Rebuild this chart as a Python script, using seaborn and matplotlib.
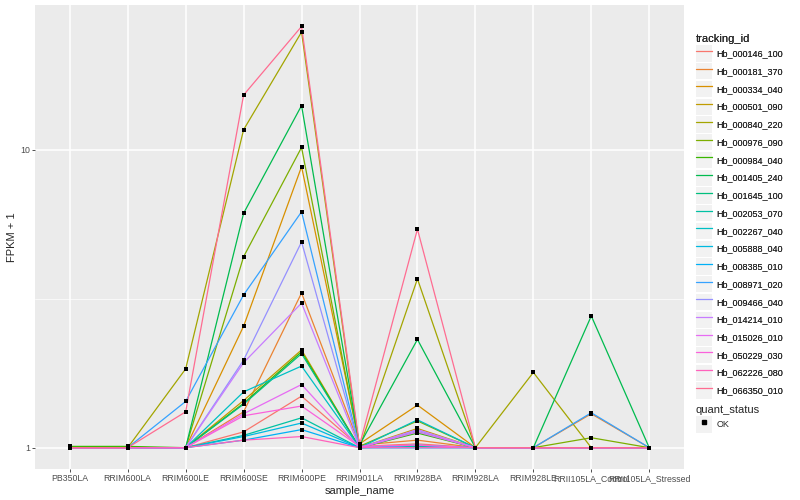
import matplotlib
matplotlib.use('Agg')
import pandas as pd
import matplotlib.pyplot as plt
import seaborn as sns
from matplotlib.lines import Line2D
from matplotlib.patches import Patch
from matplotlib.ticker import FixedLocator, FixedFormatter, NullFormatter

# samples on the x axis
samples = ["PB350LA", "RRIM600LA", "RRIM600LE", "RRIM600SE", "RRIM600PE", "RRIM901LA",
           "RRIM928BA", "RRIM928LA", "RRIM928LE", "RRII105LA_Control", "RRII105LA_Stressed"]

tracking_ids = ["Hb_000146_100", "Hb_000181_370", "Hb_000334_040", "Hb_000501_090",
                "Hb_000840_220", "Hb_000976_090", "Hb_000984_040", "Hb_001405_240",
                "Hb_001645_100", "Hb_002053_070", "Hb_002267_040", "Hb_005888_040",
                "Hb_008385_010", "Hb_008971_020", "Hb_009466_040", "Hb_014214_010",
                "Hb_015026_010", "Hb_050229_030", "Hb_062226_080", "Hb_066350_010"]

# ggplot default hue palette for 20 groups
palette = ["#F8766D", "#EA8331", "#D89000", "#C09B00", "#A3A500", "#7CAE00", "#39B600",
           "#00BB4E", "#00BF7D", "#00C1A3", "#00BFC4", "#00BAE0", "#00B0F6", "#35A2FF",
           "#9590FF", "#C77CFF", "#E76BF3", "#FA62DB", "#FF62BC", "#FF6C91"]

# FPKM + 1 per sample, one value per tracking_id (same order as tracking_ids)
pb350la = [1.0, 1.0, 1.0, 1.0, 1.0, 1.0, 1.01, 1.0, 1.0, 1.0,
           1.0, 1.0, 1.0, 1.0, 1.0, 1.0, 1.0, 1.0, 1.0, 1.0]
rrim600la = [1.0, 1.0, 1.0, 1.0, 1.0, 1.0, 1.01, 1.0, 1.0, 1.0,
             1.0, 1.0, 1.0, 1.0, 1.0, 1.0, 1.0, 1.0, 1.0, 1.0]
rrim600le = [1.0, 1.0, 1.0, 1.0, 1.84, 1.0, 1.0, 1.0, 1.0, 1.0,
             1.0, 1.0, 1.0, 1.43, 1.0, 1.0, 1.0, 1.0, 1.0, 1.32]
rrim600se = [1.13, 1.32, 2.56, 1.44, 11.7, 4.38, 1.41, 6.13, 1.40, 1.10,
             1.54, 1.09, 1.06, 3.26, 1.97, 1.93, 1.30, 1.28, 1.06, 15.3]
rrim600pe = [1.49, 3.31, 8.79, 2.13, 24.9, 10.2, 2.10, 14.1, 2.07, 1.26,
             1.88, 1.21, 1.15, 6.20, 4.91, 3.06, 1.63, 1.38, 1.09, 26.0]
rrim901la = [1.01, 1.02, 1.03, 1.0, 1.0, 1.01, 1.0, 1.02, 1.0, 1.0,
             1.0, 1.0, 1.0, 1.0, 1.0, 1.0, 1.0, 1.01, 1.0, 1.02]
rrim928ba = [1.03, 1.06, 1.39, 1.16, 3.69, 1.23, 1.12, 2.31, 1.13, 1.01,
             1.24, 1.0, 1.0, 1.02, 1.145, 1.15, 1.13, 1.02, 1.0, 5.42]
rrim928la = [1.0] * 20
rrim928le = [1.0, 1.0, 1.0, 1.0, 1.79, 1.0, 1.0, 1.0, 1.0, 1.0,
             1.0, 1.0, 1.0, 1.0, 1.0, 1.0, 1.0, 1.0, 1.0, 1.0]
rrii105la_control = [1.0, 1.30, 1.0, 1.0, 1.0, 1.08, 1.0, 2.77, 1.0, 1.0,
                     1.0, 1.0, 1.0, 1.31, 1.0, 1.0, 1.0, 1.0, 1.0, 1.0]
rrii105la_stressed = [1.0] * 20

columns = [pb350la, rrim600la, rrim600le, rrim600se, rrim600pe, rrim901la,
           rrim928ba, rrim928la, rrim928le, rrii105la_control, rrii105la_stressed]

rows = []
for tid_i, tid in enumerate(tracking_ids):
    for s_i, s in enumerate(samples):
        rows.append({'tracking_id': tid, 'sample_name': s, 'fpkm1': columns[s_i][tid_i],
                     'quant_status': 'OK'})
df = pd.DataFrame(rows)

sns.set_style('darkgrid', {'axes.facecolor': '#EBEBEB', 'grid.color': 'white'})
plt.rcParams['font.family'] = ['Liberation Sans', 'DejaVu Sans']

fig = plt.figure(figsize=(8, 5), dpi=100)
ax = fig.add_axes([35 / 800, 31 / 500, 649 / 800, 464 / 500])

sns.lineplot(data=df, x='sample_name', y='fpkm1', hue='tracking_id', hue_order=tracking_ids,
             palette=palette, sort=False, errorbar=None, legend=False, lw=0.9, ax=ax)
sns.scatterplot(data=df, x='sample_name', y='fpkm1', color='black', marker='s', s=10,
                linewidth=0, legend=False, ax=ax, zorder=5)

ax.set_yscale('log')
ax.set_ylim(10 ** -0.0716, 10 ** 1.487)
ax.set_xlim(-0.6, len(samples) - 0.4)
ax.yaxis.set_major_locator(FixedLocator([1, 10]))
ax.yaxis.set_major_formatter(FixedFormatter(['1', '10']))
ax.yaxis.set_minor_locator(FixedLocator([10 ** 0.5]))
ax.yaxis.set_minor_formatter(NullFormatter())
ax.grid(which='major', color='white', lw=1.1)
ax.grid(which='minor', axis='y', color='white', lw=0.5)
ax.tick_params(which='major', length=2.2, width=0.6, color='#333333', labelcolor='#4D4D4D',
               labelsize=6.3, pad=1.5, left=True, bottom=True)
ax.tick_params(which='minor', length=0)
for sp in ax.spines.values():
    sp.set_visible(False)

ax.set_xlabel('sample_name', fontsize=8, labelpad=2)
ax.set_ylabel('FPKM + 1', fontsize=8, labelpad=2)

# legends
leg_kw = dict(loc='upper left', frameon=False, fontsize=6.5, title_fontsize=8,
              handlelength=1.8, handleheight=2.4, labelspacing=0.16, handletextpad=0.45,
              borderpad=0, borderaxespad=0, alignment='left')
id_handles = [(Patch(facecolor='#F2F2F2', edgecolor='none'), Line2D([], [], color=c, lw=0.9))
              for c in palette]
leg1 = fig.legend(id_handles, tracking_ids, title='tracking_id',
                  bbox_to_anchor=(696 / 800, 1 - 34 / 500), **leg_kw)
fig.add_artist(leg1)
ok_handle = [(Patch(facecolor='#F2F2F2', edgecolor='none'),
              Line2D([], [], color='black', marker='s', markersize=3, lw=0))]
fig.legend(ok_handle, ['OK'], title='quant_status',
           bbox_to_anchor=(696 / 800, 1 - 405 / 500), **leg_kw)

fig.savefig('out.png', dpi=100)
